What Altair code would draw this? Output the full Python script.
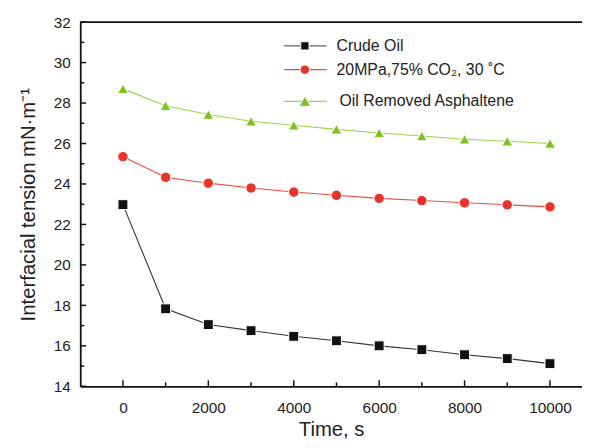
import altair as alt
import pandas as pd

FONT = "Liberation Sans"

times = [0, 1000, 2000, 3000, 4000, 5000, 6000, 7000, 8000, 9000, 10000]
crude = [22.98, 17.83, 17.05, 16.75, 16.47, 16.25, 16.0, 15.81, 15.56, 15.37, 15.12]
co2 = [25.35, 24.33, 24.04, 23.80, 23.60, 23.44, 23.29, 23.18, 23.07, 22.97, 22.87]
asph = [28.70, 27.87, 27.43, 27.10, 26.90, 26.70, 26.52, 26.37, 26.21, 26.11, 26.00]

series = ["Crude Oil", "20MPa,75% CO₂, 30 ˚C", "Oil Removed Asphaltene"]
line_colors = ["#333333", "#EE4B3D", "#9ED44F"]
legend_line_colors = ["#666666", "#EE4B3D", "#9ED44F"]
marker_colors = ["#111111", "#E5352B", "#7DC21E"]
shapes = ["square", "circle", "triangle-up"]
marker_sizes = [100, 121, 190]
legend_marker_sizes = [70, 90, 140]

x_major = [0, 2000, 4000, 6000, 8000, 10000]
x_minor = [1000, 3000, 5000, 7000, 9000]
y_major = [14, 16, 18, 20, 22, 24, 26, 28, 30, 32]
y_minor = [15, 17, 19, 21, 23, 25, 27, 29, 31]

W, H = 507, 368
XDOM = [-1000, 10750]
YDOM = [14, 32]

rows = []
for name, vals in zip(series, [crude, co2, asph]):
    for t, v in zip(times, vals):
        rows.append({"t": t, "v": v, "series": name})
df = pd.DataFrame(rows)

xs = alt.Scale(domain=XDOM, nice=False, zero=False)
ys = alt.Scale(domain=YDOM, nice=False, zero=False)
color_s = alt.Scale(domain=series, range=line_colors)
fill_s = alt.Scale(domain=series, range=marker_colors)
shape_s = alt.Scale(domain=series, range=shapes)
size_s = alt.Scale(domain=series, range=marker_sizes)

xaxis = alt.Axis(
    values=x_major, format="d", ticks=False, grid=False, domainColor="#111111", domainWidth=1.8,
    labelFont=FONT, labelFontSize=15.5, labelColor="#222222", labelPadding=14,
    title="Time, s", titleFont=FONT, titleFontSize=20.5, titleFontWeight="normal",
    titleColor="#222222", titleBaseline="alphabetic", titleY=50, labelFlush=False)
yaxis = alt.Axis(
    values=y_major, format="d", ticks=False, grid=False, domainColor="#111111", domainWidth=1.8,
    labelFont=FONT, labelFontSize=15.5, labelColor="#222222", labelPadding=10,
    title="Interfacial tension mN·m⁻¹", titleFont=FONT, titleFontSize=20.5,
    titleFontWeight="normal", titleColor="#222222", titlePadding=15, labelFlush=False)

X = lambda f: alt.X(f, scale=xs, axis=xaxis)
Y = lambda f: alt.Y(f, scale=ys, axis=yaxis)

lines = alt.Chart(df).mark_line(strokeWidth=1.1).encode(
    x=X("t:Q"), y=Y("v:Q"),
    color=alt.Color("series:N", scale=color_s, legend=None),
    detail="series:N",
)

points = alt.Chart(df).mark_point(filled=True, opacity=1, stroke="white", strokeWidth=1).encode(
    x=X("t:Q"), y=Y("v:Q"),
    fill=alt.Fill("series:N", scale=fill_s, legend=None),
    shape=alt.Shape("series:N", scale=shape_s, legend=None),
    size=alt.Size("series:N", scale=size_s, legend=None),
)

tick_style = dict(color="#111111", strokeWidth=1.5)
ymaj = alt.Chart(pd.DataFrame({"v": y_major})).mark_rule(**tick_style).encode(
    y=Y("v:Q"), x=alt.value(0), x2=alt.value(6))
ymin = alt.Chart(pd.DataFrame({"v": y_minor})).mark_rule(**tick_style).encode(
    y=Y("v:Q"), x=alt.value(0), x2=alt.value(4))
xmaj = alt.Chart(pd.DataFrame({"t": x_major})).mark_rule(**tick_style).encode(
    x=X("t:Q"), y=alt.value(H), y2=alt.value(H - 6))
xmin = alt.Chart(pd.DataFrame({"t": x_minor})).mark_rule(**tick_style).encode(
    x=X("t:Q"), y=alt.value(H), y2=alt.value(H - 4))
top = alt.Chart(pd.DataFrame({"v": [YDOM[1]]})).mark_rule(color="#111111", strokeWidth=1.8).encode(
    y=Y("v:Q"), x=alt.value(0), x2=alt.value(W))

# manual legend (layout positions in pixels)
legend_rows_y = [24, 48, 80]
legend_text_dx = [0, 0, 3]
legend_layers = []
for name, ly, lc, mc, shp, ms, dx in zip(series, legend_rows_y, legend_line_colors,
                                         marker_colors, shapes, legend_marker_sizes,
                                         legend_text_dx):
    ldf = pd.DataFrame({"label": [name]})
    base = alt.Chart(ldf)
    legend_layers.append(base.mark_rule(strokeWidth=1.3, color=lc).encode(
        y=alt.value(ly), x=alt.value(206), x2=alt.value(249)))
    legend_layers.append(base.mark_point(filled=True, opacity=1, fill=mc, stroke="white",
                                         strokeWidth=1, shape=shp, size=ms).encode(
        y=alt.value(ly), x=alt.value(227)))
    legend_layers.append(base.mark_text(align="left", baseline="middle", font=FONT,
                                        fontSize=16, color="#222222", dx=dx).encode(
        y=alt.value(ly), x=alt.value(259), text="label:N"))

chart = alt.layer(
    lines, points, ymaj, ymin, xmaj, xmin, top, *legend_layers
).properties(
    width=W, height=H,
    autosize=alt.AutoSizeParams(type="none"),
    padding={"left": 73, "top": 12, "right": 0, "bottom": 52},
).configure_view(stroke=None).configure(background="white")

chart.save("out.html", embed_options={"renderer": "svg", "actions": False})
